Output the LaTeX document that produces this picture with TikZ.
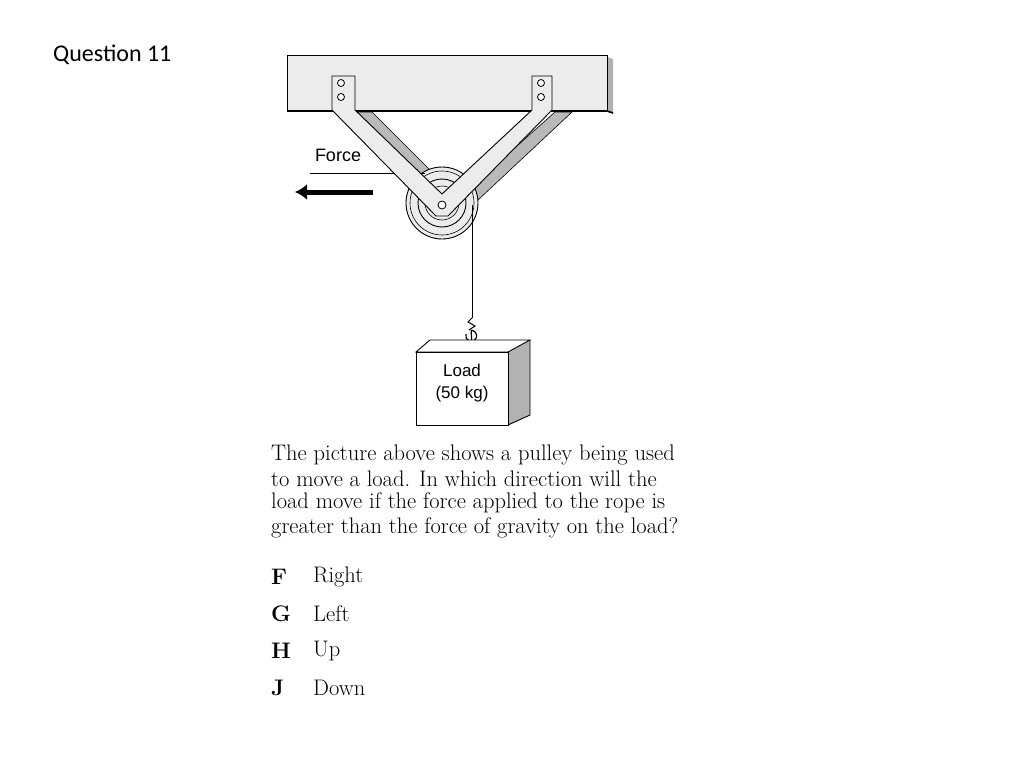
\documentclass[tikz,border=0pt]{standalone}
\usepackage{fontspec}
\usetikzlibrary{arrows.meta}
\newfontfamily\labelfont{Liberation Sans}
\newfontfamily\titlefont{Carlito}
\tikzset{
  part/.style={draw=black, line width=0.9pt, fill=gray!15},
  shade/.style={draw=black, line width=0.6pt, fill=gray!55},
  qtext/.style={anchor=west, inner sep=0pt, font=\fontsize{22.5}{26}\selectfont},
}
\begin{document}
\begin{tikzpicture}[x=1pt,y=-1pt]
  \useasboundingbox (0,0) rectangle (1024,768);
  \node[anchor=west, inner sep=0pt, font=\titlefont\fontsize{24}{28}\selectfont] (title) at (53,55) {Question 11};
  % beam
  \fill[gray!60] (607,57) -- (613,59) -- (613,113) -- (607,110) -- cycle;
  \draw[part] (287,55) rectangle (607,110);
  \draw[line width=1.6pt] (287,111) -- (607,111) -- (613,113);
  % shadows of the arms
  \draw[shade] (357,112) -- (372,112) -- (438,178) -- (428,185) -- cycle;
  \draw[shade] (555,112) -- (572,112) -- (478,200) -- (470,188) -- cycle;
  % pulley
  \draw[part] (442,203) circle (36);
  \draw[line width=0.6pt] (442,203) circle (32);
  \draw[part] (442,203) circle (24);
  \draw[line width=0.6pt] (442,203) circle (17);
  % rope
  \draw[line width=0.8pt] (310,173) -- (425,173);
  \draw[line width=0.8pt] (472,205) -- (472,318);
  % arms
  \draw[part] (332,76) -- (355,76) -- (355,110) -- (442,194) -- (532,110) -- (532,76)
    -- (552,76) -- (552,110) -- (448,216) -- (436,216) -- (332,110) -- cycle;
  \foreach \hx in {341,541} {
    \draw[line width=0.8pt, fill=white] (\hx,83) circle (3.5);
    \draw[line width=0.8pt, fill=white] (\hx,97) circle (3.5);
  }
  \draw[line width=0.8pt, fill=white] (442,205) circle (4);
  % force
  \node[font=\labelfont\fontsize{18}{21}\selectfont] (force) at (338,155) {Force};
  \coordinate (fstart) at (373,192);
  \coordinate (fend) at (295,192);
  \draw[line width=5pt, -{Latex[length=12pt,width=16pt]}] (fstart) -- (fend);
  % hook
  \draw[line width=1pt] (472,318) -- (468,322) -- (475,326) -- (469,330);
  \draw[line width=1.2pt] (466,334) arc (200:-90:5.5) -- (472,351);
  % load box
  \fill[gray!60] (508,352) -- (530,340) -- (530,415) -- (508,425) -- cycle;
  \draw[line width=0.9pt, fill=white] (416,352) -- (430,340) -- (530,340) -- (508,352) -- cycle;
  \draw[line width=0.9pt] (530,340) -- (530,415) -- (508,425);
  \draw[line width=0.9pt, fill=white] (416,352) rectangle (508,425);
  \node[align=center, font=\labelfont\fontsize{17}{22}\selectfont] (load) at (462,383) {Load\\(50 kg)};
  % question
  \node[qtext] (l1) at (271,455) {The picture above shows a pulley being used};
  \node[qtext] (l2) at (271,479) {to move a load. In which direction will the};
  \node[qtext] (l3) at (271,503) {load move if the force applied to the rope is};
  \node[qtext] (l4) at (271,528) {greater than the force of gravity on the load?};
  \foreach \k/\w/\y in {F/Right/577, G/Left/614, H/Up/651, J/Down/688} {
    \node[qtext, font=\bfseries\fontsize{22.5}{26}\selectfont] (opt\k) at (271,\y) {\k};
    \node[qtext] (ans\k) at (313,\y) {\w};
  }
\end{tikzpicture}
\end{document}
